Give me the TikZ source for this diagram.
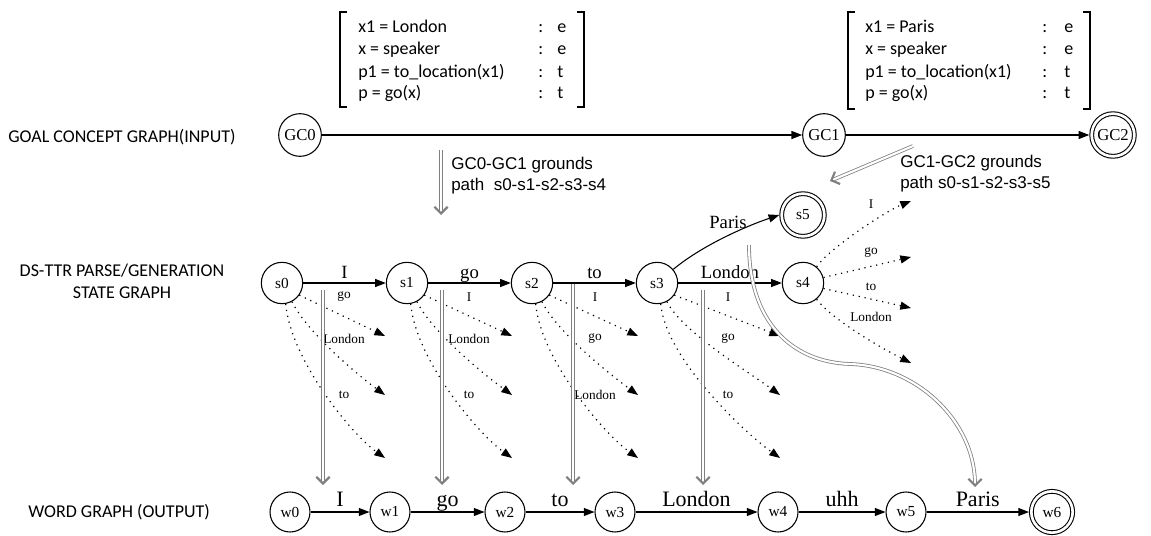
\documentclass[tikz,border=0pt]{standalone}
\usepackage{fontspec}
\setmainfont{Liberation Serif}
\newfontfamily\calfont{Carlito}
\newfontfamily\arialfont{Liberation Sans}
\usetikzlibrary{arrows.meta}
\tikzset{
 st/.style={circle,draw,line width=0.8pt,minimum size=31pt,inner sep=0pt,font=\fontsize{11.5}{12}\selectfont},
 gc/.style={st,minimum size=32pt,font=\fontsize{12.5}{13}\selectfont},
 fin/.style={double,double distance=2pt,minimum size=32pt,outer sep=1.8pt},
 edge/.style={line width=0.8pt,-{Triangle[length=8pt,width=6pt]}},
 dots/.style={line width=0.9pt,dash pattern=on 0.9pt off 3.6pt,-{Triangle[length=8pt,width=6pt]}},
 gnd/.style={draw=gray,line width=0.6pt,double=white,double distance=1.6pt,-{Straight Barb[length=5pt,width=10pt,line width=1.6pt]}},
 lbl/.style={font=\fontsize{14}{15}\selectfont,inner sep=0pt,anchor=base,yshift=3.75pt},
 wlbl/.style={font=\fontsize{16.5}{17}\selectfont,inner sep=0pt,anchor=base,yshift=4pt},
 fanlbl/.style={font=\fontsize{10}{11}\selectfont,inner sep=1pt},
 rowlbl/.style={font=\calfont\fontsize{13.5}{16.5}\selectfont,align=center,inner sep=0pt},
 btxt/.style={font=\calfont\fontsize{13.5}{14}\selectfont,inner sep=0pt,anchor=base west},
 gtxt/.style={font=\arialfont\fontsize{12.75}{15}\selectfont,inner sep=0pt,anchor=base west},
}
\newcommand\fanarrows[6]{%
  \coordinate (#1e1) at ([shift={(#2,53)}]#1.center);
  \coordinate (#1e2) at ([shift={(#2,112)}]#1.center);
  \coordinate (#1e3) at ([shift={(#2,175)}]#1.center);
  \draw[dots] (#1.-35) -- (#1e1);
  \draw[dots] (#1.-62) .. controls +(15,30) and +(-30,-22) .. (#1e2);
  \draw[dots] (#1.-80) .. controls +(5,55) and +(-35,-25) .. (#1e3);
  \node[fanlbl] (#1l1) at ([shift={(#3,14)}]#1.center) {#4};
  \node[fanlbl] (#1l2) at ([shift={(#3,56)}]#1.center) {#5};
  \node[fanlbl] (#1l3) at ([shift={(#3,112)}]#1.center) {#6};
}
\begin{document}
\begin{tikzpicture}[x=0.75pt,y=-0.75pt]
\useasboundingbox (0,0) rectangle (1151,535);
% row labels
\node[rowlbl,anchor=west] (r1) at (8,137) {GOAL CONCEPT GRAPH(INPUT)};
\node[rowlbl] (r2) at (122,281) {DS-TTR PARSE/GENERATION\\STATE GRAPH};
\node[rowlbl,anchor=west] (r3) at (28,512) {WORD GRAPH (OUTPUT)};
% brackets
\draw[line width=0.9pt] (347,12) -- (340,12) -- (340,107) -- (347,107);
\draw[line width=0.9pt] (577,12) -- (584,12) -- (584,107) -- (577,107);
\node[btxt] (b1a) at (358,33) {x1 = London};
\node[btxt] (b1b) at (358,55) {x = speaker};
\node[btxt] (b1c) at (358,77) {p1 = to\_location(x1)};
\node[btxt] (b1d) at (358,98) {p = go(x)};
\foreach \yy/\tt [count=\i] in {33/e,55/e,77/t,98/t}{
  \node[btxt] (b1col\i) at (538,\yy) {:};
  \node[btxt] (b1typ\i) at (557,\yy) {\tt};
}
\draw[line width=0.9pt] (855,12) -- (848,12) -- (848,109) -- (855,109);
\draw[line width=0.9pt] (1083,12) -- (1090,12) -- (1090,109) -- (1083,109);
\node[btxt] (b2a) at (865,33) {x1 = Paris};
\node[btxt] (b2b) at (865,55) {x = speaker};
\node[btxt] (b2c) at (865,77) {p1 = to\_location(x1)};
\node[btxt] (b2d) at (865,98) {p = go(x)};
\foreach \yy/\tt [count=\i] in {33/e,55/e,77/t,98/t}{
  \node[btxt] (b2col\i) at (1042,\yy) {:};
  \node[btxt] (b2typ\i) at (1064,\yy) {\tt};
}
% goal concept graph
\node[gc] (GC0) at (300,135) {GC0};
\node[gc] (GC1) at (824,135) {GC1};
\node[gc,fin] (GC2) at (1113,135) {GC2};
\draw[edge] (GC0) -- (GC1);
\draw[edge] (GC1) -- (GC2);
% grounding texts
\node[gtxt] (t1a) at (451,169) {GC0-GC1 grounds};
\node[gtxt] (t1b) at (451,190) {path\ \ s0-s1-s2-s3-s4};
\node[gtxt] (t2a) at (900,167) {GC1-GC2 grounds};
\node[gtxt] (t2b) at (900,188) {path s0-s1-s2-s3-s5};
\coordinate (g0a) at (441,150); \coordinate (g0b) at (441,215);
\coordinate (g1a) at (913,146); \coordinate (g1b) at (830,181);
\draw[gnd] (g0a) -- (g0b);
\draw[gnd] (g1a) -- (g1b);
% state graph
\node[st] (s0) at (282,283) {s0};
\node[st] (s1) at (407,283) {s1};
\node[st] (s2) at (532,283) {s2};
\node[st] (s3) at (657,283) {s3};
\node[st] (s4) at (803,283) {s4};
\node[st,fin] (s5) at (803,215) {s5};
\draw[edge] (s0) -- node[lbl]{I} (s1);
\draw[edge] (s1) -- node[lbl]{go} (s2);
\draw[edge] (s2) -- node[lbl]{to} (s3);
\draw[edge] (s3) -- node[lbl]{London} (s4);
\draw[edge] (s3.40) .. controls +(30,-25) and +(-30,10) .. (s5.west);
\node[font=\fontsize{14}{15}\selectfont,inner sep=0pt] (parislbl) at (728,222) {Paris};
\fanarrows{s0}{103}{62}{go}{London}{to}
\fanarrows{s1}{105}{62}{I}{London}{to}
\fanarrows{s2}{106}{63}{I}{go}{London}
\fanarrows{s3}{123}{71}{I}{go}{to}
% s4 fan
\coordinate (s4e1) at (911,201);
\coordinate (s4e2) at (911,257);
\coordinate (s4e3) at (911,308);
\coordinate (s4e4) at (911,363);
\draw[dots] (s4.50) .. controls +(12,-18) and +(-25,10) .. (s4e1);
\draw[dots] (s4.15) -- (s4e2);
\draw[dots] (s4.-15) -- (s4e3);
\draw[dots] (s4.-50) .. controls +(15,20) and +(-30,-15) .. (s4e4);
\node[fanlbl] (s4l1) at (871,204) {I};
\node[fanlbl] (s4l2) at (871,253) {go};
\node[fanlbl] (s4l3) at (871,287) {to};
\node[fanlbl] (s4l4) at (871,317) {London};
% word graph
\node[st,minimum size=30pt] (w0) at (290,512) {w0};
\node[st,minimum size=30pt] (w1) at (390,512) {w1};
\node[st,minimum size=30pt] (w2) at (505,512) {w2};
\node[st,minimum size=30pt] (w3) at (615,512) {w3};
\node[st,minimum size=30pt] (w4) at (778,512) {w4};
\node[st,minimum size=30pt] (w5) at (906,512) {w5};
\node[st,fin,minimum size=31pt] (w6) at (1052,512) {w6};
\draw[edge] (w0) -- node[wlbl]{I} (w1);
\draw[edge] (w1) -- node[wlbl]{go} (w2);
\draw[edge] (w2) -- node[wlbl]{to} (w3);
\draw[edge] (w3) -- node[wlbl]{London} (w4);
\draw[edge] (w4) -- node[wlbl]{uhh} (w5);
\draw[edge] (w5) -- node[wlbl]{Paris} (w6);
% vertical groundings
\coordinate (v0a) at (323,290); \coordinate (v0b) at (323,485);
\coordinate (v1a) at (442,290); \coordinate (v1b) at (442,485);
\coordinate (v2a) at (573,284); \coordinate (v2b) at (573,485);
\coordinate (v3a) at (703,290); \coordinate (v3b) at (703,485);
\draw[gnd] (v0a) -- (v0b);
\draw[gnd] (v1a) -- (v1b);
\draw[gnd] (v2a) -- (v2b);
\draw[gnd] (v3a) -- (v3b);
\coordinate (c5a) at (749,245); \coordinate (c5b) at (975,487);
\draw[gnd] (c5a) .. controls (749,320) and (790,362) .. (850,364) .. controls (915,366) and (975,420) .. (c5b);
\end{tikzpicture}
\end{document}
